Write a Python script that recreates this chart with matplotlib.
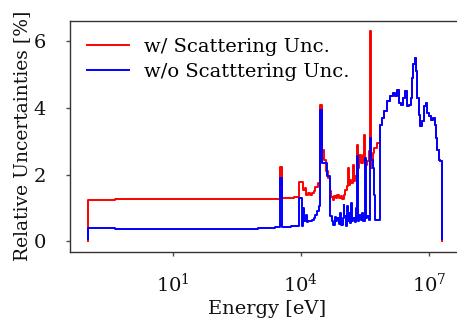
import matplotlib
matplotlib.use("Agg")
import matplotlib.pyplot as plt
import numpy as np

plt.rcParams['font.family'] = 'DejaVu Serif'
plt.rcParams['mathtext.fontset'] = 'dejavuserif'

# energies [eV] and relative uncertainties [%] (step data)
e_red_low = [0.1, 0.1, 0.44, 30, 3200, 3600, 5000, 7000, 8900, 1.1e4, 1.25e4,
             1.35e4, 1.45e4, 1.6e4, 1.8e4, 2.0e4, 2.2e4, 2.5e4, 2.8e4, 3.1e4,
             3.5e4, 3.8e4, 4.3e4, 4.75e4, 5.0e4, 5.6e4, 6.0e4, 6.6e4, 7.2e4,
             7.7e4, 8.5e4, 9.1e4, 1.0e5, 1.07e5, 1.19e5, 1.25e5, 1.32e5, 1.4e5,
             1.5e5, 1.65e5, 1.75e5, 1.9e5, 2.04e5, 2.15e5, 2.3e5, 2.5e5, 2.8e5,
             3.0e5, 3.2e5, 3.5e5, 3.9e5, 4.2e5, 4.45e5, 4.8e5, 5.3e5, 6.0e5]
u_red_low = [0.0, 1.25, 1.27, 1.28, 2.23, 1.29, 1.30, 1.32, 1.78, 1.53, 1.60,
             1.38, 1.45, 1.40, 1.45, 1.52, 1.62, 1.75, 4.10, 2.75,
             2.45, 2.10, 1.90, 1.50, 1.32, 1.25, 1.35, 1.30, 1.38,
             1.30, 1.36, 1.28, 1.40, 1.55, 1.65, 2.20, 1.70, 1.85,
             1.75, 2.30, 1.80, 1.95, 2.90, 2.20, 2.60, 2.35, 2.60,
             3.20, 2.30, 2.40, 2.70, 6.30, 2.20, 2.65, 2.80, 2.95]

e_blue_low = [0.1, 0.1, 0.44, 100, 1000, 2500, 3200, 3600, 6000, 8000, 8900,
              1.05e4, 1.1e4, 1.2e4, 1.3e4, 1.4e4, 1.5e4, 1.6e4, 1.8e4, 2.0e4,
              2.2e4, 2.4e4, 2.6e4, 2.8e4, 3.1e4, 4.0e4, 4.9e4, 5.4e4, 5.8e4,
              6.2e4, 6.8e4, 7.2e4, 7.7e4, 8.3e4, 8.8e4, 9.5e4, 1.0e5, 1.05e5,
              1.12e5, 1.19e5, 1.25e5, 1.32e5, 1.4e5, 1.5e5, 1.6e5, 1.7e5,
              1.83e5, 1.95e5, 2.04e5, 2.15e5, 2.3e5, 2.5e5, 2.7e5, 2.9e5,
              3.13e5, 3.3e5, 3.6e5, 3.9e5, 4.2e5, 4.5e5, 4.8e5, 5.2e5, 5.6e5]
u_blue_low = [0.08, 0.40, 0.37, 0.38, 0.40, 0.43, 1.90, 0.44, 0.45, 0.47, 1.30,
              0.47, 1.00, 0.60, 0.80, 0.58, 0.62, 0.60, 0.63, 0.70,
              0.80, 0.90, 1.05, 3.93, 2.35, 1.95, 0.75, 0.60, 0.50,
              0.72, 0.62, 0.70, 0.52, 0.85, 0.48, 0.70, 1.10, 0.75,
              0.45, 1.05, 0.60, 0.85, 0.55, 1.15, 0.60, 0.70,
              0.58, 1.00, 2.55, 0.60, 0.80, 0.65, 0.85, 0.62,
              2.50, 0.70, 0.75, 0.65, 3.10, 2.45, 2.20, 1.40, 0.65]

# fast range, both curves coincide
e_high = [7.05e5, 7.85e5, 8.74e5, 1.03e6, 1.21e6, 1.42e6, 1.58e6, 1.76e6,
          1.96e6, 2.19e6, 2.43e6, 2.71e6, 3.02e6, 3.36e6, 3.75e6, 3.96e6,
          4.29e6, 4.65e6, 5.04e6, 5.32e6, 5.77e6, 6.09e6, 6.78e6, 7.55e6,
          8.41e6, 9.12e6, 9.9e6, 1.10e7, 1.23e7, 1.37e7, 1.48e7, 1.56e7,
          1.70e7, 1.84e7, 2.0e7]
u_high = [3.50, 3.70, 3.90, 4.20, 4.35, 4.45, 4.35, 4.55,
          4.15, 4.10, 4.30, 4.50, 4.05, 4.10, 4.30, 4.90,
          5.30, 5.50, 5.10, 4.30, 3.80, 3.45, 3.60, 4.05,
          4.15, 3.85, 3.75, 3.65, 3.70, 3.50, 3.10, 2.75,
          2.45, 2.40, 2.40]
red_end = 0.02
blue_end = 0.08

e_red = np.array(e_red_low + e_high + [e_high[-1]])
u_red = np.array(u_red_low + u_high + [red_end])
e_blue = np.array(e_blue_low + e_high + [e_high[-1]])
u_blue = np.array(u_blue_low + u_high + [blue_end])

fs = 14

fig = plt.figure(figsize=(4.57, 3.21), dpi=100)
# right spine sits just past the figure edge, as in the original
ax = fig.add_axes([0.153, 0.215, 0.862, 0.721])

ax.plot(e_red, u_red, color='red', lw=1.4, drawstyle='steps-post',
        label='w/ Scattering Unc.')
ax.plot(e_blue, u_blue, color='blue', lw=1.4, drawstyle='steps-post',
        label='w/o Scatttering Unc.')

ax.set_xscale('log')
ax.set_xlim(0.0386, 6.6e7)
ax.set_xticks([1e1, 1e4, 1e7])
ax.xaxis.set_minor_locator(matplotlib.ticker.NullLocator())
ax.set_yticks([0, 2, 4, 6])

ax.set_xlabel('Energy [eV]', fontsize=fs, color='#111111', labelpad=3)
ax.set_ylabel('Relative Uncertainties [%]', fontsize=13.5, color='#111111',
              labelpad=2)
ax.tick_params(labelsize=fs, length=3, width=1, color='0.3',
               labelcolor='#111111')
ax.tick_params(axis='x', pad=12)
ax.tick_params(axis='y', pad=14)
for s in ax.spines.values():
    s.set_color('0.2')
    s.set_linewidth(1.0)

ax.legend(loc='upper left', frameon=False, fontsize=fs,
          handlelength=2.15, handletextpad=0.75, labelspacing=0.35,
          borderaxespad=0.5)

fig.savefig('out.png', dpi=100)
